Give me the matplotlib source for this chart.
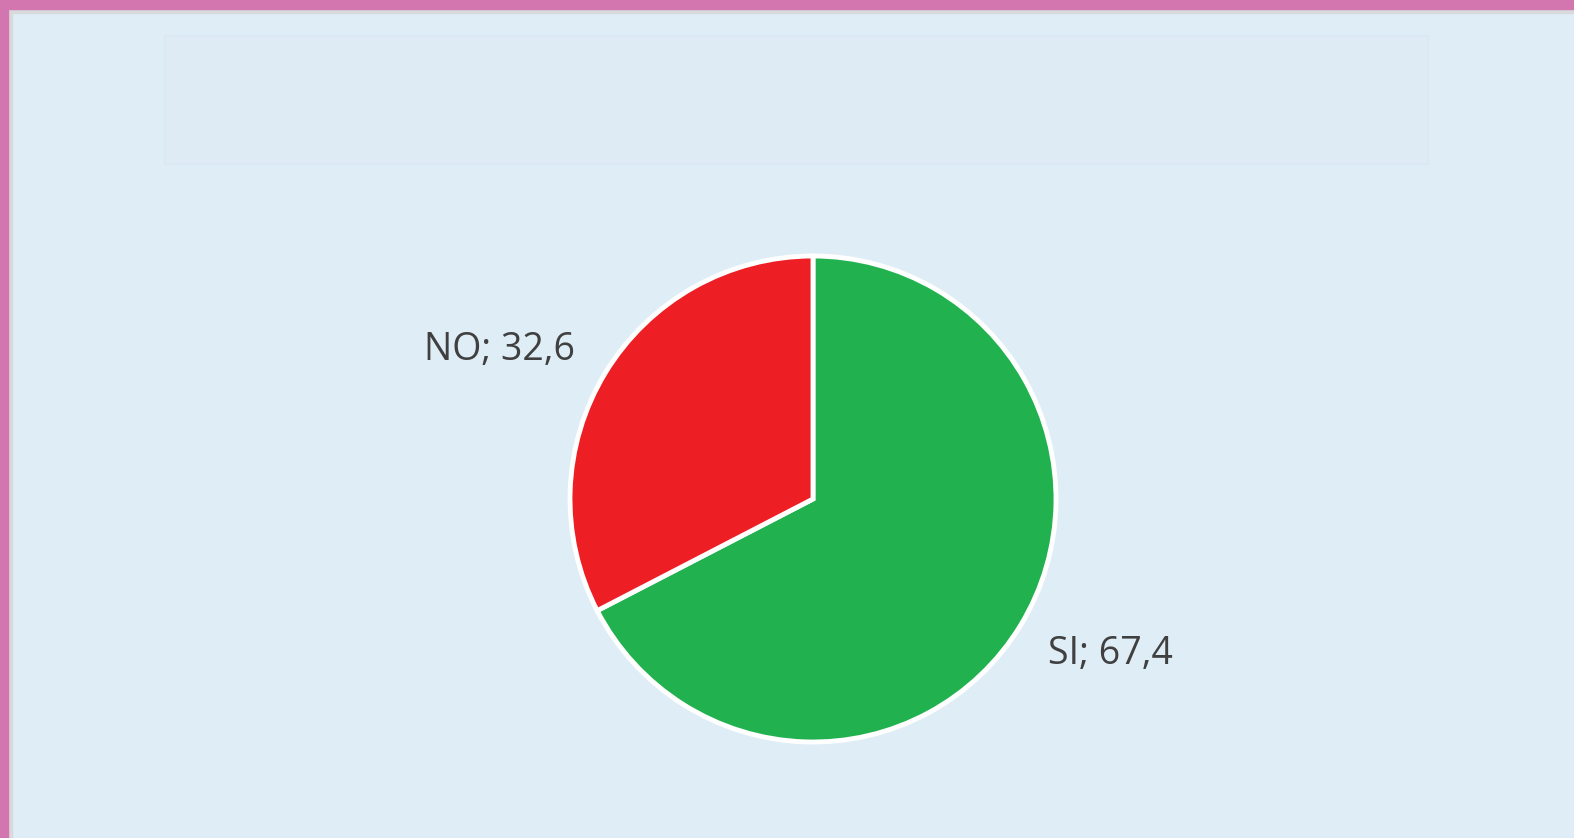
import matplotlib.pyplot as plt
from matplotlib.patches import Rectangle

categories = ["SI", "NO"]
values = [67.4, 32.6]
colors = ["#21B24F", "#EE1F24"]

W, H = 1574, 838
fig = plt.figure(figsize=(W / 100, H / 100), dpi=100)
fig.patch.set_facecolor("#DFEDF6")
ax = fig.add_axes([0, 0, 1, 1])

# empty title placeholder box
ax.add_patch(Rectangle((164, 35), 1264, 129, facecolor="#DEEBF5",
                       edgecolor="#DAE8F3", linewidth=1, zorder=1))

cx, cy, r = 813, 499, 243
# y axis is inverted below, so start at -90 and run counterclockwise
# to get a clockwise pie starting at 12 o'clock on screen
wedges, _ = ax.pie(values, colors=colors, startangle=-90, counterclock=True,
                   center=(cx, cy), radius=r, frame=True,
                   wedgeprops=dict(edgecolor="white", linewidth=3.5))
ax.set_xlim(0, W)
ax.set_ylim(H, 0)
ax.set_aspect("equal")
ax.axis("off")

# frame: pink border on top/left with thin grey inner line
ax.add_patch(Rectangle((0, 0), W, 9, color="#D376B0", zorder=5))
ax.add_patch(Rectangle((0, 0), 8, H, color="#D376B0", zorder=5))
ax.add_patch(Rectangle((8, 9), W, 4, color="#D8D9DA", zorder=4))
ax.add_patch(Rectangle((8, 9), 4, H, color="#D8D9DA", zorder=4))

label_pos = {"SI": (1110, 654), "NO": (500, 350)}
for cat, val in zip(categories, values):
    txt = f"{cat}; {val:.1f}".replace(".", ",")
    ax.text(*label_pos[cat], txt, ha="center", va="center",
            fontsize=27, family="Open Sans", color="#404040")

fig.savefig("out.png", dpi=100, facecolor=fig.get_facecolor())
